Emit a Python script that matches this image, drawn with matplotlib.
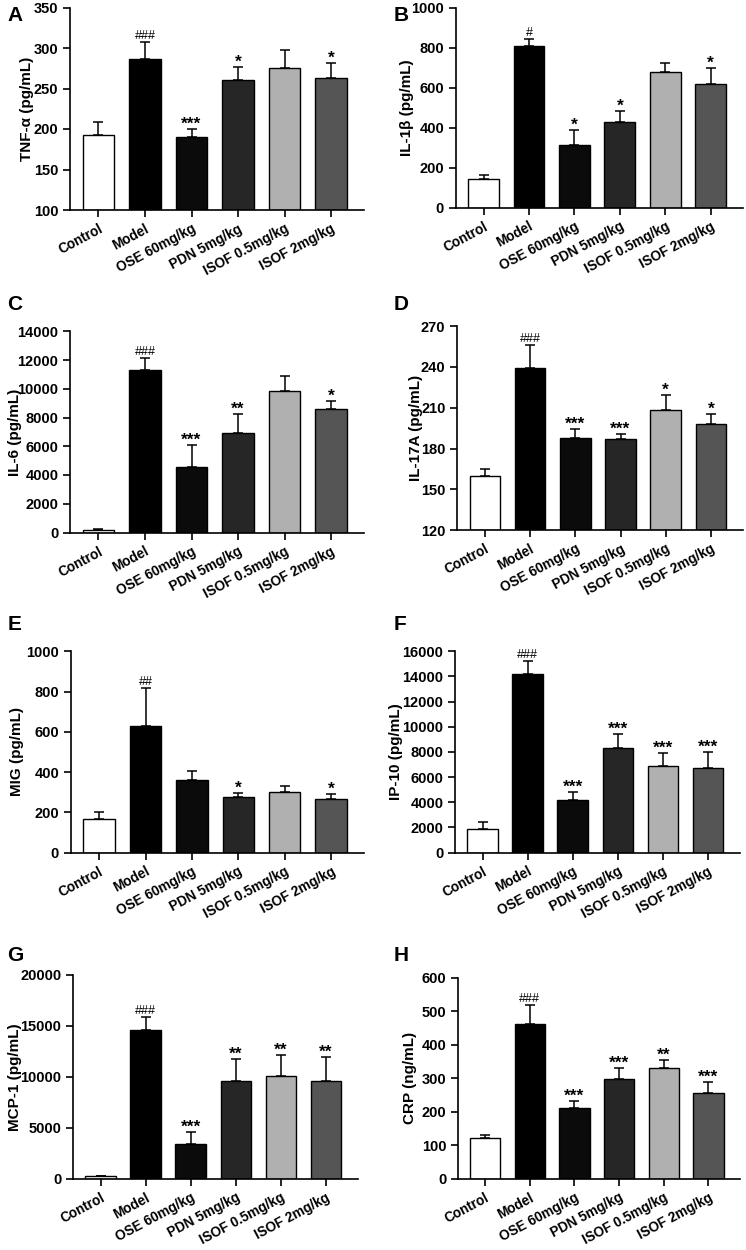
import matplotlib
matplotlib.use('Agg')
import matplotlib.pyplot as plt

plt.rcParams['font.family'] = ['Liberation Sans', 'DejaVu Sans']
plt.rcParams['font.weight'] = 'bold'

groups = ['Control', 'Model', 'OSE 60mg/kg', 'PDN 5mg/kg', 'ISOF 0.5mg/kg', 'ISOF 2mg/kg']
bar_colors = ['#ffffff', '#000000', '#0b0b0b', '#262626', '#b0b0b0', '#555555']

# values: mean, mean+SD (top of error bar), marks
tnf = [193, 286, 190, 261, 275, 263]
tnf_err = [209, 308, 200, 276, 297, 282]
tnf_sig = ['', '###', '***', '*', '', '*']

il1b = [141, 809, 312, 426, 677, 617]
il1b_err = [164, 843, 390, 484, 725, 697]
il1b_sig = ['', '#', '*', '*', '', '*']

il6 = [190, 11300, 4590, 6920, 9840, 8590]
il6_err = [240, 12120, 6100, 8220, 10890, 9120]
il6_sig = ['', '###', '***', '**', '', '*']

il17a = [160, 239, 187.5, 187, 208.7, 197.7]
il17a_err = [165, 256.3, 194, 190.8, 219.5, 205.5]
il17a_sig = ['', '###', '***', '***', '*', '*']

mig = [168, 627, 358, 275, 300, 265]
mig_err = [201, 817, 403, 294, 328, 289]
mig_sig = ['', '##', '', '*', '', '*']

ip10 = [1900, 14200, 4200, 8280, 6900, 6750]
ip10_err = [2400, 15210, 4840, 9390, 7900, 7960]
ip10_sig = ['', '###', '***', '***', '***', '***']

mcp1 = [230, 14620, 3460, 9590, 10120, 9590]
mcp1_err = [260, 15920, 4630, 11750, 12140, 11940]
mcp1_sig = ['', '###', '***', '**', '**', '**']

crp = [122, 460, 210, 298, 329, 257]
crp_err = [130, 519, 233, 329, 353, 288]
crp_sig = ['', '###', '***', '***', '**', '***']

# letter, y label, data, y range, axes rect, y label right edge (px), letter position
panels = [
    ('A', 'TNF-α (pg/mL)', tnf, tnf_err, tnf_sig, (100, 350, 50), [0.094, 0.832, 0.394, 0.162], 34, (0.010, 0.995)),
    ('B', 'IL-1β (pg/mL)', il1b, il1b_err, il1b_sig, (0, 1000, 200), [0.611, 0.834, 0.385, 0.160], 414, (0.527, 0.995)),
    ('C', 'IL-6 (pg/mL)', il6, il6_err, il6_sig, (0, 14000, 2000), [0.094, 0.574, 0.394, 0.161], 22, (0.010, 0.764)),
    ('D', 'IL-17A (pg/mL)', il17a, il17a_err, il17a_sig, (120, 270, 30), [0.613, 0.576, 0.383, 0.163], 423, (0.527, 0.764)),
    ('E', 'MIG (pg/mL)', mig, mig_err, mig_sig, (0, 1000, 200), [0.095, 0.318, 0.393, 0.161], 24, (0.010, 0.508)),
    ('F', 'IP-10 (pg/mL)', ip10, ip10_err, ip10_sig, (0, 16000, 2000), [0.610, 0.318, 0.382, 0.161], 403, (0.527, 0.508)),
    ('G', 'MCP-1 (pg/mL)', mcp1, mcp1_err, mcp1_sig, (0, 20000, 5000), [0.098, 0.057, 0.382, 0.163], 22, (0.010, 0.243)),
    ('H', 'CRP (ng/mL)', crp, crp_err, crp_sig, (0, 600, 100), [0.614, 0.057, 0.378, 0.161], 417, (0.527, 0.243)),
]

fig = plt.figure(figsize=(7.46, 12.5), dpi=100)
x = list(range(len(groups)))

for letter, ylabel, vals, tops, sig, (lo, hi, step), rect, ylab_px, (lx, ly) in panels:
    ax = fig.add_axes(rect)
    errs = [t - v for t, v in zip(tops, vals)]
    ax.bar(x, [v - lo for v in vals], bottom=lo, width=0.68, color=bar_colors,
           edgecolor='black', linewidth=1.0, zorder=2)
    ax.errorbar(x, vals, yerr=[[0] * len(vals), errs], fmt='none', ecolor='black',
                elinewidth=1.1, capsize=3.5, capthick=1.1, zorder=1)
    for i, s in enumerate(sig):
        if s:
            w = 'normal' if '#' in s else 'bold'
            fs = 9 if '#' in s else 12.5
            ax.annotate(s, (x[i], tops[i]), xytext=(0, -2 if '*' in s else 0),
                        textcoords='offset points', ha='center', va='bottom',
                        fontsize=fs, fontweight=w)
    ax.set_ylim(lo, hi)
    ax.set_yticks(range(lo, hi + 1, step))
    ax.set_xlim(-0.61, 5.71)
    ax.set_xticks(x)
    ax.set_xticklabels(groups, rotation=28, ha='right', rotation_mode='anchor', fontsize=9.8)
    ax.tick_params(axis='y', labelsize=10.5, width=1.2, length=5)
    ax.tick_params(axis='x', width=1.2, length=5)
    for lab in ax.get_yticklabels() + ax.get_xticklabels():
        lab.set_fontweight('bold')
    ax.spines['top'].set_visible(False)
    ax.spines['right'].set_visible(False)
    ax.spines['left'].set_linewidth(1.2)
    ax.spines['bottom'].set_linewidth(1.2)
    ax.set_ylabel(ylabel, fontsize=11, fontweight='bold')
    ax.yaxis.set_label_coords((ylab_px / 746 - rect[0]) / rect[2], 0.5)
    fig.text(lx, ly, letter, fontsize=15, fontweight='bold', va='top', ha='left')

fig.savefig('out.png', dpi=100)
